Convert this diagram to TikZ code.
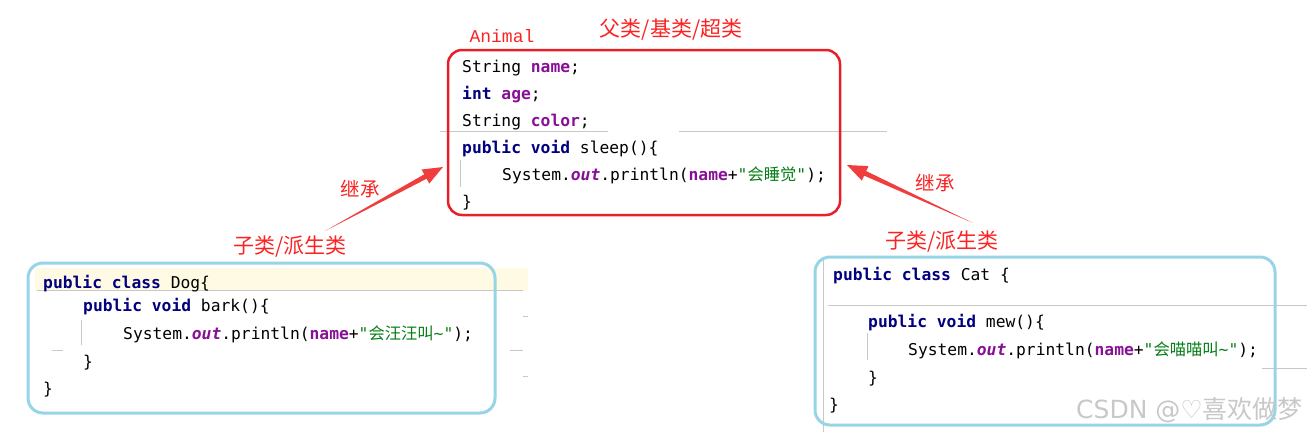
\documentclass[tikz,border=0pt]{standalone}
\usepackage{fontspec}
\usepackage{xcolor}
\usepackage{tikz}
\usetikzlibrary{calc}

\setmonofont{DejaVu Sans Mono}[BoldFont=DejaVu Sans Mono Bold,ItalicFont=DejaVu Sans Mono Oblique,BoldItalicFont=DejaVu Sans Mono Bold Oblique]
\newfontfamily\cjk{Noto Sans CJK SC}
\newfontfamily\marksans{DejaVu Sans}
\newfontfamily\namemono{Liberation Mono}

\definecolor{kwblue}{RGB}{0,0,128}
\definecolor{fldpurple}{RGB}{135,16,148}
\definecolor{strgreen}{RGB}{6,125,23}
\definecolor{boxred}{RGB}{232,30,40}
\definecolor{labelred}{RGB}{250,35,35}
\definecolor{arrowred}{RGB}{240,62,62}
\definecolor{boxcyan}{RGB}{150,212,230}
\definecolor{lineyellow}{RGB}{255,250,227}
\definecolor{guidegray}{RGB}{200,200,200}
\definecolor{markgray}{RGB}{200,200,200}

\newcommand\kw[1]{\textcolor{kwblue}{\bfseries #1}}
\newcommand\fld[1]{\textcolor{fldpurple}{\bfseries #1}}
\newcommand\fldit[1]{\textcolor{fldpurple}{\bfseries\itshape #1}}
\newcommand\lit[1]{\textcolor{strgreen}{#1}}
\newcommand\cn[1]{{\cjk #1}}

\begin{document}
\begin{tikzpicture}[x=1pt, y=-1pt,
  code/.style={anchor=base west, inner sep=0, font=\ttfamily\fontsize{16.3}{16.3}\selectfont},
  lbl/.style={inner sep=0, text=labelred, font=\cjk\fontsize{21}{21}\selectfont},
  classbox/.style={draw=boxcyan, line width=3pt, rounded corners=15pt},
  guide/.style={guidegray, line width=1pt}]
  \useasboundingbox (0,0) rectangle (1307,432);

  % Editor background details
  \fill[lineyellow] (35,268) rectangle (528,291);
  \draw[guide] (440,131) -- (608,131) (679,131) -- (887,131);
  \draw[guide] (37,290) -- (523,290);
  \draw[guide] (828,305) -- (1307,305);
  \draw[guide] (1262,368) -- (1307,368);
  \draw[guide] (823,260) -- (823,432);
  \draw[guide] (460,160) -- (460,187);
  \draw[guide] (81,320) -- (81,345);
  \draw[guide] (867,333) -- (867,360);
  \draw[guide] (523,316) -- (528,316) (510,350) -- (523,350) (523,376) -- (528,376) (52,350) -- (63,350);

  % Class boxes
  \node (animal) [draw=boxred, line width=2.5pt, rounded corners=14pt, minimum width=392pt, minimum height=165pt] at (644,132.5) {};
  \node (dog) [classbox, minimum width=467pt, minimum height=150pt] at (261.5,338) {};
  \node (cat) [classbox, minimum width=460pt, minimum height=168pt] at (1045,341) {};

  % Animal
  \node (a1) [code] at (462,72)  {String \fld{name};};
  \node (a2) [code] at (462,99)  {\kw{int} \fld{age};};
  \node (a3) [code] at (462,126) {String \fld{color};};
  \node (a4) [code] at (462,153) {\kw{public} \kw{void} sleep()\{};
  \node (a5) [code] at (502,180) {System.\fldit{out}.println(\fld{name}+\lit{"\cn{会睡觉}"});};
  \node (a6) [code] at (462,207) {\}};

  % Dog
  \node (d1) [code] at (43,288)  {\kw{public} \kw{class} Dog\{};
  \node (d2) [code] at (83,311)  {\kw{public} \kw{void} bark()\{};
  \node (d3) [code] at (123,339) {System.\fldit{out}.println(\fld{name}+\lit{"\cn{会汪汪叫}\string~"});};
  \node (d4) [code] at (83,367)  {\}};
  \node (d5) [code] at (43,394)  {\}};

  % Cat
  \node (c1) [code] at (833,280) {\kw{public} \kw{class} Cat \{};
  \node (c2) [code] at (868,327) {\kw{public} \kw{void} mew()\{};
  \node (c3) [code] at (908,355) {System.\fldit{out}.println(\fld{name}+\lit{"\cn{会喵喵叫}\string~"});};
  \node (c4) [code] at (868,383) {\}};
  \node (c5) [code] at (829,410) {\}};

  % Labels
  \node (animalname) [inner sep=0, text=labelred, font=\namemono\fontsize{18}{18}\selectfont] at (502,36) {Animal};
  \node (superlbl) [lbl] at (671,30) {父类/基类/超类};
  \node (subl) [lbl] at (290,247) {子类/派生类};
  \node (subr) [lbl] at (942,242) {子类/派生类};
  \node (inhl) [lbl, font=\cjk\fontsize{19.5}{19.5}\selectfont] at (360,189) {继承};
  \node (inhr) [lbl, font=\cjk\fontsize{19.5}{19.5}\selectfont] at (935,183) {继承};

  % Inheritance arrows
  \coordinate (ltail) at (325,231);
  \coordinate (ltip) at (443,167);
  \coordinate (lneck) at ($(ltip)!20pt!(ltail)$);
  \fill[arrowred] (ltail) -- ($(lneck)!2.5pt!90:(ltail)$) -- ($(lneck)!8pt!90:(ltail)$) -- (ltip)
    -- ($(lneck)!8pt!-90:(ltail)$) -- ($(lneck)!2.5pt!-90:(ltail)$) -- cycle;
  \coordinate (rtail) at (973,223);
  \coordinate (rtip) at (847,165);
  \coordinate (rneck) at ($(rtip)!20pt!(rtail)$);
  \fill[arrowred] (rtail) -- ($(rneck)!2.5pt!90:(rtail)$) -- ($(rneck)!8pt!90:(rtail)$) -- (rtip)
    -- ($(rneck)!8pt!-90:(rtail)$) -- ($(rneck)!2.5pt!-90:(rtail)$) -- cycle;

  % Watermark
  \node (mark) [anchor=east, inner sep=0, text=markgray, font=\marksans\fontsize{25}{25}\selectfont] at (1303,410) {CSDN @♡\cjk 喜欢做梦};
\end{tikzpicture}
\end{document}
